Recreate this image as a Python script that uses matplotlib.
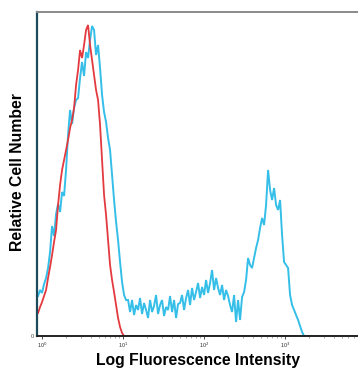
import numpy as np
import matplotlib
matplotlib.use("Agg")
import matplotlib.pyplot as plt
from matplotlib.ticker import FixedLocator, NullFormatter

# histogram channels: log10 intensity of first channel and channel width (decades)
LOG_START = -0.049
LOG_STEP = 2 / 81

# stained sample (blue), counts per channel
blue_counts = [
    40, 46, 43, 52, 58, 68, 84, 110, 100, 122, 132, 124, 144, 140, 166, 201,
    226, 212, 228, 236, 238, 258, 274, 260, 284, 278, 296, 310, 306, 281, 291, 268,
    241, 224, 214, 198, 186, 161, 136, 114, 96, 74, 54, 41, 36, 36, 24, 36,
    21, 31, 26, 38, 22, 33, 26, 18, 36, 24, 30, 41, 22, 31, 36, 20,
    29, 26, 40, 24, 36, 18, 32, 33, 41, 26, 38, 46, 31, 48, 36, 44,
    53, 38, 49, 41, 56, 43, 53, 66, 46, 58, 48, 41, 51, 36, 46, 40,
    31, 24, 41, 14, 36, 16, 39, 44, 56, 78, 71, 68, 78, 88, 96, 108,
    118, 111, 131, 166, 146, 136, 148, 131, 126, 136, 101, 74, 71, 68, 41, 31,
    26, 21, 16, 10, 4, 0, 0, 0, 0, 0, 0, 0, 0, 0, 0, 0,
    0, 0, 0, 0, 0, 0, 0, 0, 0, 0, 0, 0, 0, 0, 0, 0,
]

# isotype control (red), counts per channel
red_counts = [
    23, 29, 34, 40, 46, 58, 69, 81, 94, 106, 131, 151, 166, 176, 186, 196,
    208, 216, 228, 251, 266, 286, 278, 291, 306, 311, 291, 276, 261, 246, 236, 211,
    176, 141, 121, 96, 71, 56, 44, 31, 18, 9, 3, 0, 0, 0, 0, 0,
    0, 0, 0, 0, 0, 0, 0, 0, 0, 0, 0, 0, 0, 0, 0, 0,
    0, 0, 0, 0, 0, 0, 0, 0, 0, 0, 0, 0, 0, 0, 0, 0,
    0, 0, 0, 0, 0, 0, 0, 0, 0, 0, 0, 0, 0, 0, 0, 0,
    0, 0, 0, 0, 0, 0, 0, 0, 0, 0, 0, 0, 0, 0, 0, 0,
    0, 0, 0, 0, 0, 0, 0, 0, 0, 0, 0, 0, 0, 0, 0, 0,
    0, 0,
]

tick_values = [1, 10, 100, 1000]
tick_labels = ["10$^0$", "10$^1$", "10$^2$", "10$^3$"]

BLUE = "#35bfe8"
RED = "#e33a3f"

plt.rcParams["font.family"] = ["Liberation Sans", "DejaVu Sans"]

fig = plt.figure(figsize=(3.58, 3.70), dpi=100)
ax = fig.add_axes([37 / 358, 1 - 336 / 370, 325 / 358, 324 / 370])

bx = 10 ** (LOG_START + LOG_STEP * np.arange(len(blue_counts)))
rx = 10 ** (LOG_START + LOG_STEP * np.arange(len(red_counts)))
ax.plot(bx, blue_counts, color=BLUE, lw=1.4, solid_joinstyle="miter")
ax.plot(rx, red_counts, color=RED, lw=1.3, solid_joinstyle="miter")

ax.set_xscale("log")
ax.set_xlim(10 ** -0.062, 10 ** 3.95)
ax.set_ylim(0, 324)

ax.xaxis.set_major_locator(FixedLocator(tick_values))
ax.set_xticklabels(tick_labels)
minors = [m * 10 ** d for d in range(0, 4) for m in range(2, 10)]
ax.xaxis.set_minor_locator(FixedLocator(minors))
ax.xaxis.set_minor_formatter(NullFormatter())
ax.tick_params(axis="x", which="major", length=2.5, width=0.6, labelsize=4,
               pad=1, colors="#333333")
ax.tick_params(axis="x", which="minor", length=1.2, width=0.4, colors="#666666")
ax.set_yticks([0])
ax.set_yticklabels(["0"])
ax.tick_params(axis="y", length=0, labelsize=4, pad=2, colors="#444444")

ax.spines["right"].set_visible(False)
ax.spines["top"].set_color("#8a8a8a")
ax.spines["top"].set_linewidth(1.4)
ax.spines["bottom"].set_color("#222222")
ax.spines["bottom"].set_linewidth(1.4)
ax.spines["left"].set_color("#1d4a5a")
ax.spines["left"].set_linewidth(1.6)

fig.text(198 / 358, 1 - 360 / 370, "Log Fluorescence Intensity",
         ha="center", va="center", fontsize=11.3, fontweight="bold")
fig.text(18 / 358, 1 - 172 / 370, "Relative Cell Number",
         ha="center", va="center", rotation=90, fontsize=11.3, fontweight="bold")

fig.savefig("out.png", dpi=100)
